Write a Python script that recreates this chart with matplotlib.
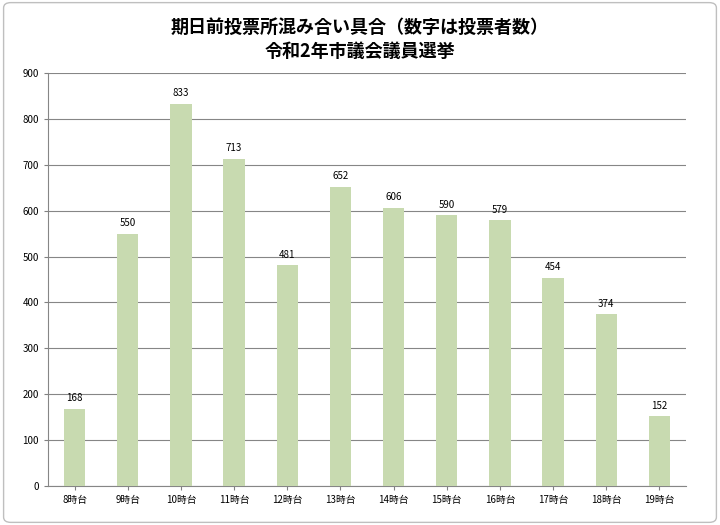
import matplotlib
matplotlib.use("Agg")
import matplotlib.pyplot as plt
from matplotlib.patches import FancyBboxPatch

categories = ["8時台","9時台","10時台","11時台","12時台","13時台","14時台","15時台","16時台","17時台","18時台","19時台"]
values = [168,550,833,713,481,652,606,590,579,454,374,152]
yticks = [0,100,200,300,400,500,600,700,800,900]

plt.rcParams["font.family"] = "Noto Sans CJK JP"
fig = plt.figure(figsize=(7.2,5.25), dpi=100)
fig.patches.append(FancyBboxPatch((0.005,0.005),0.99,0.99,boxstyle="round,pad=0,rounding_size=0.01",
                                  transform=fig.transFigure, fill=False, edgecolor="#bfbfbf", lw=1))
ax = fig.add_axes([48/720, 1-486/525, (686-48)/720, (486-73)/525])
x = range(len(categories))
ax.bar(x, values, width=0.4, color="#c8dab0", zorder=3)
for i,v in zip(x, values):
    ax.text(i, v+12, str(v), ha="center", va="bottom", fontsize=7)
ax.set_xlim(-0.5, len(categories)-0.5)
ax.set_ylim(0, 900)
ax.set_yticks(yticks)
ax.set_xticks(list(x))
ax.set_xticklabels(categories, fontsize=7)
ax.tick_params(axis="y", labelsize=7, length=3, color="#808080")
ax.tick_params(axis="x", length=3, color="#808080")
ax.grid(axis="y", color="#868686", lw=0.8, zorder=0)
for s in ["top","right"]:
    ax.spines[s].set_visible(False)
for s in ["left","bottom"]:
    ax.spines[s].set_color("#868686")
fig.text(0.5, 1-27/525, "期日前投票所混み合い具合（数字は投票者数）", ha="center", va="center", fontsize=13, fontweight="bold")
fig.text(0.5, 1-51/525, "令和2年市議会議員選挙", ha="center", va="center", fontsize=13, fontweight="bold")
fig.savefig("out.png", dpi=100)
